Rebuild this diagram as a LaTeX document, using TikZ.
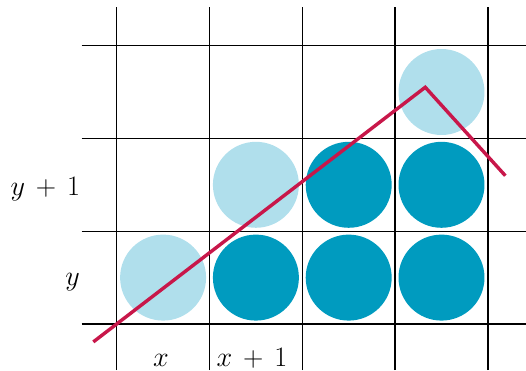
\documentclass[tikz,border=0pt]{standalone}
\usepackage{tikz}
\definecolor{PXlight}{HTML}{B0DFEC}
\definecolor{PXdark}{HTML}{009BBF}
\definecolor{PXred}{HTML}{C8174A}

\begin{document}
\begin{tikzpicture}[x=2cm, y=2cm,
    gridline/.style={draw=black, line width=0.8pt},
    pxlit/.style={circle, fill=PXlight, minimum size=1.853cm, inner sep=0pt},
    pxon/.style={circle, fill=PXdark, minimum size=1.853cm, inner sep=0pt},
    edgeline/.style={draw=PXred, line width=2.1pt, line join=miter},
    axlabel/.style={font=\fontsize{17}{20}\selectfont, inner sep=0pt, anchor=base},
]
\useasboundingbox (-1.2575,-0.4957) rectangle (4.4106,3.4914);

% --- Pixel grid (cell = 1 unit, origin at lower left crossing) ---
\foreach \gx in {0,...,4} { \draw[gridline] (\gx,-0.4957) -- (\gx,3.413); }
\foreach \gy in {0,...,3} { \draw[gridline] (-0.377,\gy) -- (4.4106,\gy); }

% --- Pixels: light = partly covered, dark = fully inside ---
\node[pxlit] (p00) at (0.5,0.5) {};
\foreach \i in {1,2,3} { \node[pxon] (p\i0) at (\i+0.5,0.5) {}; }
\node[pxlit] (p11) at (1.5,1.5) {};
\foreach \i in {2,3} { \node[pxon] (p\i1) at (\i+0.5,1.5) {}; }
\node[pxlit] (p32) at (3.5,2.5) {};

% --- Polygon edge ---
\coordinate (edgeA) at (-0.252,-0.193);
\coordinate (edgeB) at (3.325,2.551);
\coordinate (edgeC) at (4.188,1.598);
\draw[edgeline] (edgeA) -- (edgeB) -- (edgeC);

% --- Row / column labels ---
\node[axlabel] (ylabA) at (-0.769,1.390) {$y\,+\,1$};
\node[axlabel] (ylab)  at (-0.476,0.420) {$y$};
\node[axlabel] (xlab)  at (0.477,-0.4526) {$x$};
\node[axlabel] (xlabA) at (1.458,-0.4526) {$x\,+\,1$};

\end{tikzpicture}
\end{document}
